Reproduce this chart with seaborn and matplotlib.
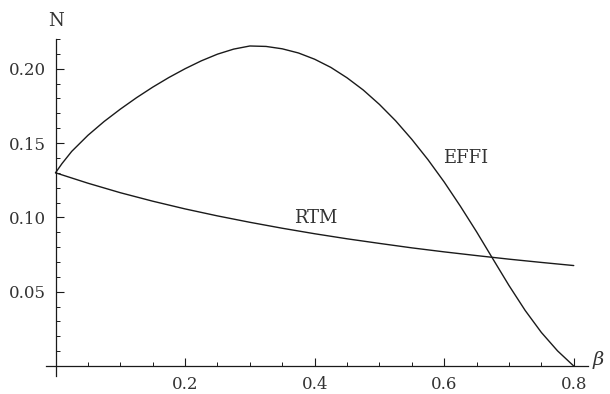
import numpy as np
import pandas as pd
import seaborn as sns
import matplotlib
matplotlib.use("Agg")
import matplotlib.pyplot as plt
from matplotlib.ticker import MultipleLocator, FixedLocator

# values
beta_effi = [0.0, 0.01, 0.025, 0.05, 0.075, 0.1, 0.125, 0.15, 0.175, 0.2,
             0.225, 0.25, 0.275, 0.3, 0.325, 0.35, 0.375, 0.4, 0.425, 0.45,
             0.475, 0.5, 0.525, 0.55, 0.575, 0.6, 0.625, 0.65, 0.675, 0.7,
             0.725, 0.75, 0.775, 0.8]
effi = [0.1300, 0.1362, 0.1444, 0.1552, 0.1645, 0.1728, 0.1805, 0.1876, 0.1941, 0.2000,
        0.2053, 0.2098, 0.2132, 0.2153, 0.2150, 0.2134, 0.2106, 0.2064, 0.2009, 0.1939,
        0.1857, 0.1760, 0.1650, 0.1525, 0.1388, 0.1238, 0.1075, 0.0903, 0.0722, 0.0542,
        0.0374, 0.0226, 0.0102, 0.0]

beta_rtm = [0.0, 0.05, 0.1, 0.15, 0.2, 0.25, 0.3, 0.35, 0.4, 0.45,
            0.5, 0.55, 0.6, 0.65, 0.7, 0.75, 0.8]
rtm = [0.1300, 0.1230, 0.1166, 0.1109, 0.1057, 0.1010, 0.0967, 0.0927, 0.0890, 0.0856,
       0.0825, 0.0795, 0.0768, 0.0743, 0.0719, 0.0697, 0.0676]

x_ticks = [0.2, 0.4, 0.6, 0.8]
y_ticks = [0.05, 0.10, 0.15, 0.20]

sns.set_style("ticks")
plt.rcParams['font.family'] = ['DejaVu Serif']
plt.rcParams['mathtext.fontset'] = 'dejavuserif'

txt = '#333333'
fig = plt.figure(figsize=(6.1, 3.94), dpi=100)
ax = fig.add_axes([46/610, 1 - 376/394, (588 - 46)/610, (376 - 39)/394])

df_e = pd.DataFrame({'beta': beta_effi, 'N': effi})
df_r = pd.DataFrame({'beta': beta_rtm, 'N': rtm})
sns.lineplot(data=df_e, x='beta', y='N', ax=ax, color='#1a1a1a', lw=1.0, sort=False)
sns.lineplot(data=df_r, x='beta', y='N', ax=ax, color='#1a1a1a', lw=1.0, sort=False)

ax.set_xlim(-0.0147, 0.822)
ax.set_ylim(-0.0067, 0.22)

# axes crossing at the origin
ax.spines['left'].set_position(('data', 0))
ax.spines['bottom'].set_position(('data', 0))
ax.spines['right'].set_visible(False)
ax.spines['top'].set_visible(False)
for s in ['left', 'bottom']:
    ax.spines[s].set_color('#1a1a1a')
    ax.spines[s].set_linewidth(0.9)

ax.xaxis.set_major_locator(FixedLocator(x_ticks))
ax.xaxis.set_minor_locator(MultipleLocator(0.05))
ax.yaxis.set_major_locator(FixedLocator(y_ticks))
ax.yaxis.set_minor_locator(MultipleLocator(0.01))
ax.set_xticklabels([f"{v:.1f}" for v in x_ticks])
ax.set_yticklabels([f"{v:.2f}" for v in y_ticks])

ax.tick_params(axis='both', which='major', direction='in', length=6, width=0.8,
               labelsize=12, colors='#1a1a1a', labelcolor=txt)
ax.tick_params(axis='both', which='minor', direction='in', length=3, width=0.7,
               colors='#1a1a1a')
ax.tick_params(axis='x', which='major', pad=7)
ax.tick_params(axis='y', which='major', pad=7)

ax.set_xlabel('')
ax.set_ylabel('')

ax.text(0.633, 0.140, 'EFFI', fontsize=13, color=txt, ha='center', va='center')
ax.text(0.401, 0.0999, 'RTM', fontsize=13, color=txt, ha='center', va='center')
ax.text(0.0, 0.2324, 'N', fontsize=13, color=txt, ha='center', va='center', clip_on=False)
ax.text(0.839, 0.004, r'$\beta$', fontsize=14, color=txt, ha='center', va='center', clip_on=False)

fig.savefig('out.png', dpi=100)
